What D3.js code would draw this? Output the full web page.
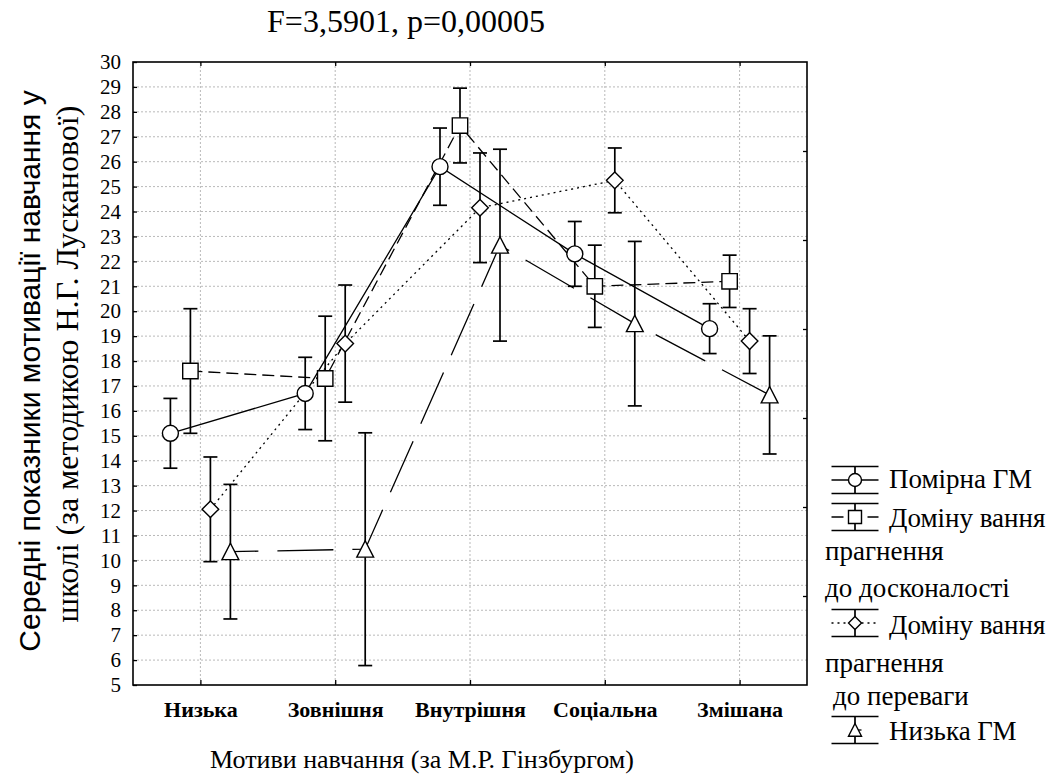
<!DOCTYPE html>
<meta charset="utf-8">
<style>
body { margin: 0; background: #fff; }
svg { display: block; background: #fff; }
.grid line { stroke: #b9b9b9; stroke-width: 1px; stroke-dasharray: 2,2; }
.frame { fill: none; stroke: #000; stroke-width: 1.6px; }
.axis path { display: none; }
.axis line { stroke: #000; stroke-width: 1.3px; }
.yaxis text { font-family: "Liberation Serif", "Times New Roman", serif; font-size: 21px; fill: #000; }
.xaxis text { font-family: "Liberation Serif", "Times New Roman", serif; font-size: 22px; font-weight: bold; fill: #000; }
.series { fill: none; stroke: #000; stroke-width: 1.3px; }
.err { stroke: #000; stroke-width: 1.7px; }
.marker { fill: #fff; stroke: #000; stroke-width: 1.4px; }
.title { font-family: "Liberation Serif", "Times New Roman", serif; font-size: 32px; fill: #000; }
.xtitle { font-family: "Liberation Serif", "Times New Roman", serif; font-size: 26px; fill: #000; }
.ytitle1 { font-family: "Liberation Sans", Arial, sans-serif; font-size: 30px; fill: #000; }
.ytitle2 { font-family: "Liberation Serif", "Times New Roman", serif; font-size: 32px; fill: #000; }
.legend text { font-family: "Liberation Serif", "Times New Roman", serif; font-size: 27px; fill: #000; }
</style>
<svg width="1047" height="778"></svg>
<script src="https://d3js.org/d3.v7.min.js"></script>
<script>
// motives (x categories)
var categories = ["Низька", "Зовнішня", "Внутрішня", "Соціальна", "Змішана"];
var seriesNames = ["Помірна ГМ", "Домінування прагнення до досконалості", "Домінування прагнення до переваги", "Низька ГМ"];

// means and half-widths of error bars
var moderate = [15.1, 16.7, 25.8, 22.3, 19.3];
var moderateErr = [1.4, 1.45, 1.55, 1.3, 1.0];
var perfection = [17.6, 17.3, 27.45, 21.0, 21.2];
var perfectionErr = [2.5, 2.5, 1.5, 1.65, 1.05];
var superiority = [12.05, 18.7, 24.15, 25.25, 18.8];
var superiorityErr = [2.1, 2.35, 2.2, 1.3, 1.3];
var lowGM = [10.35, 10.45, 22.65, 19.5, 16.64];
var lowGMErr = [2.7, 4.67, 3.85, 3.3, 2.37];

var yTicks = d3.range(5, 31);

var svg = d3.select("svg");

var pLeft = 133, pRight = 807, pTop = 62, pBottom = 685;

var x = d3.scaleLinear().domain([-0.5, 4.5]).range([pLeft, pRight]);
var y = d3.scaleLinear().domain([5, 30]).range([pBottom, pTop]);
var offset = d3.scalePoint().domain(d3.range(4)).range([-30, 30]);

var series = [
  {mean: moderate, err: moderateErr, shape: "circle", dash: null, dashOffset: 0},
  {mean: perfection, err: perfectionErr, shape: "square", dash: "12,6", dashOffset: 0},
  {mean: superiority, err: superiorityErr, shape: "diamond", dash: "2,4", dashOffset: 0},
  {mean: lowGM, err: lowGMErr, shape: "triangle", dash: "56,19", dashOffset: 28}
];

function markerPath(shape, s) {
  // s = half size
  if (shape == "circle") {
    var p = d3.path(); p.arc(0, 0, s, 0, 2 * Math.PI); p.closePath(); return p.toString();
  }
  if (shape == "square") return "M" + (-s) + "," + (-s) + "H" + s + "V" + s + "H" + (-s) + "Z";
  if (shape == "diamond") return "M0," + (-s) + "L" + s + ",0L0," + s + "L" + (-s) + ",0Z";
  return "M0," + (-s) + "L" + s + "," + (s * 0.95) + "H" + (-s) + "Z";
}
var markerSize = {circle: 8, square: 7.7, diamond: 8.3, triangle: 8.4};

// grid
var grid = svg.append("g").attr("class", "grid");
grid.selectAll(".h").data(yTicks.slice(1, -1)).enter().append("line")
    .attr("x1", pLeft).attr("x2", pRight)
    .attr("y1", d => y(d)).attr("y2", d => y(d));
grid.selectAll(".v").data(d3.range(categories.length)).enter().append("line")
    .attr("x1", d => x(d)).attr("x2", d => x(d))
    .attr("y1", pTop).attr("y2", pBottom);

// axes
svg.append("g").attr("class", "axis yaxis")
    .attr("transform", "translate(" + pLeft + ",0)")
    .call(d3.axisLeft(y).tickValues(yTicks).tickSizeInner(-4).tickSizeOuter(0).tickPadding(12));

svg.append("g").attr("class", "axis xaxis")
    .attr("transform", "translate(0," + pBottom + ")")
    .call(d3.axisBottom(x).tickValues(d3.range(categories.length))
      .tickFormat(i => categories[i]).tickSizeInner(-5).tickSizeOuter(0).tickPadding(16));

svg.append("g").attr("class", "axis")
    .attr("transform", "translate(0," + pTop + ")")
    .call(d3.axisTop(x).tickValues(d3.range(categories.length)).tickFormat("").tickSizeInner(-4).tickSizeOuter(0));

var yRight = d3.scaleLinear().domain([0, 7]).range([pBottom, pTop]);
svg.append("g").attr("class", "axis")
    .attr("transform", "translate(" + pRight + ",0)")
    .call(d3.axisRight(yRight).tickValues(d3.range(1, 7)).tickFormat("").tickSizeInner(-4).tickSizeOuter(0));

svg.append("rect").attr("class", "frame")
    .attr("x", pLeft).attr("y", pTop)
    .attr("width", pRight - pLeft).attr("height", pBottom - pTop);

// lines
var line = d3.line();
series.forEach(function(s, k) {
  var pts = s.mean.map((v, i) => [x(i) + offset(k), y(v)]);
  svg.append("path").attr("class", "series")
      .attr("d", line(pts))
      .attr("stroke-dasharray", s.dash)
      .attr("stroke-dashoffset", s.dashOffset);
});

// error bars and markers
series.forEach(function(s, k) {
  var g = svg.append("g");
  s.mean.forEach(function(v, i) {
    var cx = x(i) + offset(k);
    var y0 = y(v - s.err[i]), y1 = y(v + s.err[i]);
    g.append("line").attr("class", "err").attr("x1", cx).attr("x2", cx).attr("y1", y0).attr("y2", y1);
    g.append("line").attr("class", "err").attr("x1", cx - 7).attr("x2", cx + 7).attr("y1", y0).attr("y2", y0);
    g.append("line").attr("class", "err").attr("x1", cx - 7).attr("x2", cx + 7).attr("y1", y1).attr("y2", y1);
    g.append("path").attr("class", "marker")
        .attr("transform", "translate(" + cx + "," + y(v) + ")")
        .attr("d", markerPath(s.shape, markerSize[s.shape]));
  });
});

// titles
svg.append("text").attr("class", "title")
    .attr("x", 406).attr("y", 32).attr("text-anchor", "middle")
    .text("F=3,5901, p=0,00005");

svg.append("text").attr("class", "xtitle")
    .attr("x", 422).attr("y", 768).attr("text-anchor", "middle")
    .text("Мотиви навчання (за М.Р. Гінзбургом)");

svg.append("text").attr("class", "ytitle1")
    .attr("transform", "translate(40,371) rotate(-90)").attr("text-anchor", "middle")
    .text("Середні показники мотивації навчання у");
svg.append("text").attr("class", "ytitle2")
    .attr("transform", "translate(78,364) rotate(-90)").attr("text-anchor", "middle")
    .text("школі (за методикою Н.Г. Лусканової)");

// legend
var legend = svg.append("g").attr("class", "legend");
var legendRows = [480, 517, 623, 730];
var lx = 855, lw = 23.5, lh = 13.5;
series.forEach(function(s, k) {
  var g = legend.append("g").attr("transform", "translate(" + lx + "," + legendRows[k] + ")");
  g.append("line").attr("class", "err").attr("x1", -lw).attr("x2", lw).attr("y1", -lh).attr("y2", -lh);
  g.append("line").attr("class", "err").attr("x1", -lw).attr("x2", lw).attr("y1", lh).attr("y2", lh);
  g.append("line").attr("class", "err").attr("x1", 0).attr("x2", 0).attr("y1", -lh).attr("y2", lh);
  g.append("line").attr("class", "series").attr("x1", -lw).attr("x2", lw).attr("y1", 0).attr("y2", 0)
      .attr("stroke-dasharray", s.dash ? (k == 3 ? "10,30" : s.dash) : null)
      .attr("stroke-dashoffset", k == 3 ? 20 : 0);
  g.append("path").attr("class", "marker").attr("d", markerPath(s.shape, 6.5));
});
var legendText = [
  {t: "Помірна ГМ", x: 889, y: 488},
  {t: "Доміну вання", x: 889, y: 527},
  {t: "прагнення", x: 825, y: 560},
  {t: "до досконалості", x: 825, y: 597},
  {t: "Доміну вання", x: 889, y: 634},
  {t: "прагнення", x: 825, y: 672},
  {t: "до переваги", x: 833, y: 705},
  {t: "Низька ГМ", x: 889, y: 740}
];
legend.selectAll("text").data(legendText).enter().append("text")
    .attr("x", d => d.x).attr("y", d => d.y).text(d => d.t);
</script>
